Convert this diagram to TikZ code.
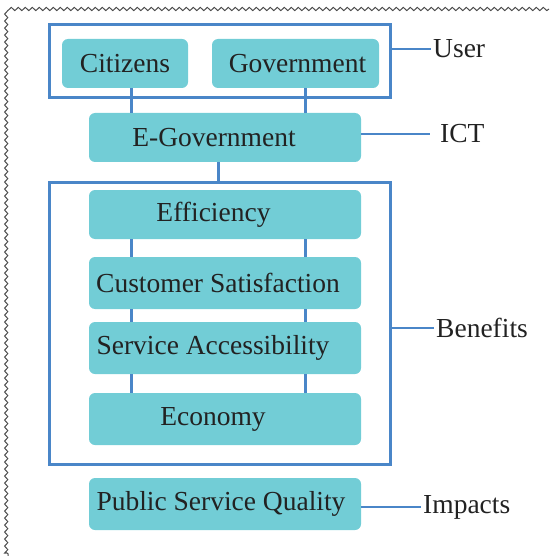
\documentclass[tikz,border=0pt]{standalone}
\usepackage{fontspec}
\setmainfont{Liberation Serif}
\usetikzlibrary{decorations.pathmorphing}
\definecolor{tealfill}{HTML}{72CDD6}
\definecolor{lineblue}{HTML}{4A86C8}
\definecolor{txt}{HTML}{222222}
\tikzset{
  x=1pt, y=-1pt,
  frame/.style={draw=lineblue, line width=3pt, rectangle, inner sep=0pt},
  card/.style={fill=tealfill, draw=none, rounded corners=6pt, rectangle, inner sep=0pt,
    text=txt, font=\fontsize{27.5}{30}\selectfont},
  conn/.style={draw=lineblue, line width=3pt},
  tagline/.style={draw=lineblue, line width=2.4pt},
  tag/.style={text=txt, font=\fontsize{27.5}{30}\selectfont, inner sep=2pt, anchor=west},
  wavy/.style={draw=black!70, line width=1pt, decorate,
    decoration={snake, segment length=7pt, amplitude=1.6pt}}
}
\begin{document}
\begin{tikzpicture}
\useasboundingbox (0,0) rectangle (549,556);
\draw[wavy] (549,9) -- (8,9) -- (8,556);

% user group
\node[frame, minimum width=341pt, minimum height=73pt] (userbox) at (219.5,61.5) {};
\node[card, minimum width=126pt, minimum height=49pt] (cit) at (125,63.5) {Citizens};
\node[card, minimum width=167pt, minimum height=49pt] (gov) at (295.5,63.5) {\hspace*{4pt}Government};
\node[card, minimum width=272pt, minimum height=49pt] (egov) at (225,137.5) {\hspace*{-22pt}E-Government};

% benefits group
\node[frame, minimum width=341pt, minimum height=282pt] (benbox) at (219.5,323) {};
\node[card, minimum width=272pt, minimum height=49pt] (eff) at (225,214.5) {\hspace*{-23pt}Efficiency};
\node[card, minimum width=272pt, minimum height=52pt] (cs) at (225,283) {\hspace*{-14pt}Customer Satisfaction};
\node[card, minimum width=272pt, minimum height=52pt] (sa) at (225,348) {\hspace*{-24pt}Service Accessibility};
\node[card, minimum width=272pt, minimum height=52pt] (eco) at (225,419) {\hspace*{-24pt}Economy};
\node[card, minimum width=272pt, minimum height=52pt] (psq) at (225,504) {\hspace*{-8pt}Public Service Quality};

% tags
\node[tag] (user) at (431,49) {User};
\node[tag] (ict) at (438,134) {ICT};
\node[tag] (ben) at (434,328) {Benefits};
\node[tag] (imp) at (421,507) {Impacts};

% connectors
\draw[conn] (cit.south -| 131,0) -- (egov.north -| 131,0);
\draw[conn] (gov.south -| 305,0) -- (egov.north -| 305,0);
\draw[conn] (egov.south -| 218,0) -- (benbox.north -| 218,0);
\foreach \a/\b in {eff/cs, cs/sa, sa/eco}{
  \draw[conn] (\a.south -| 131,0) -- (\b.north -| 131,0);
  \draw[conn] (\a.south -| 305,0) -- (\b.north -| 305,0);
}
\draw[tagline] (user.west -| userbox.east) -- (user.west);
\draw[tagline] (ict.west -| egov.east) -- ([xshift=-8pt]ict.west);
\draw[tagline] (ben.west -| benbox.east) -- (ben.west);
\draw[tagline] (imp.west -| psq.east) -- (imp.west);
\end{tikzpicture}
\end{document}
